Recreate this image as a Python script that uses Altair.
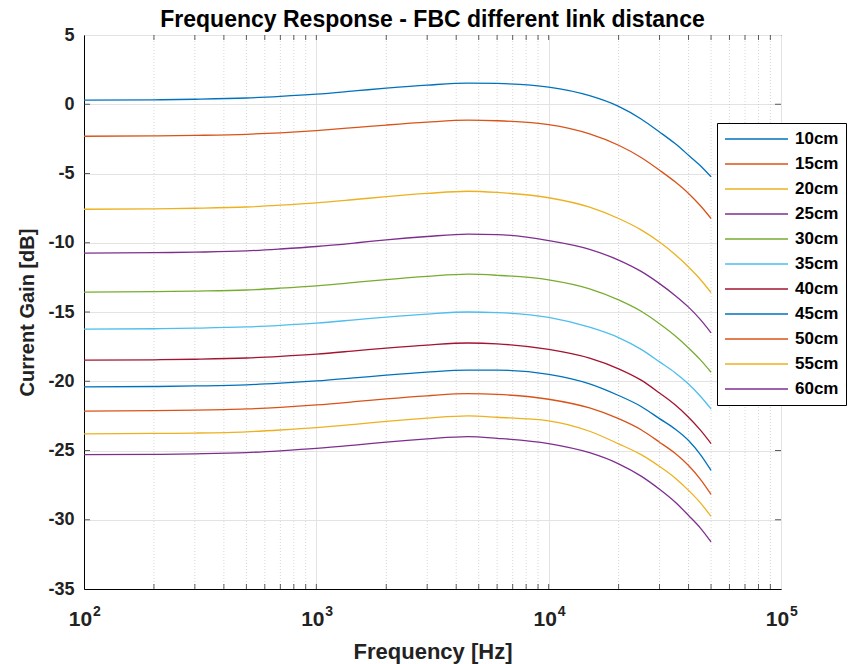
import altair as alt
import pandas as pd

freq = [100, 200, 300, 500, 700, 1000, 1500, 2000, 3000, 4500, 6000, 10000,
        15000, 20000, 25000, 30000, 35000, 40000, 45000, 50000]

labels = ["10cm", "15cm", "20cm", "25cm", "30cm", "35cm", "40cm", "45cm", "50cm", "55cm", "60cm"]

g10 = [0.30, 0.32, 0.36, 0.45, 0.57, 0.73, 0.98, 1.16, 1.38, 1.53, 1.50, 1.24, 0.62, -0.15, -1.06, -2.0, -2.84, -3.68, -4.44, -5.24]
g15 = [-2.31, -2.29, -2.25, -2.17, -2.06, -1.90, -1.67, -1.50, -1.29, -1.15, -1.19, -1.47, -2.14, -2.96, -3.84, -4.76, -5.6, -6.44, -7.33, -8.25]
g20 = [-7.58, -7.55, -7.51, -7.42, -7.29, -7.12, -6.86, -6.67, -6.44, -6.28, -6.37, -6.75, -7.43, -8.25, -9.07, -9.95, -10.85, -11.75, -12.65, -13.6]
g25 = [-10.75, -10.72, -10.68, -10.59, -10.45, -10.27, -10.0, -9.79, -9.55, -9.38, -9.41, -9.85, -10.48, -11.25, -12.07, -12.95, -13.8, -14.65, -15.55, -16.5]
g30 = [-13.56, -13.53, -13.49, -13.41, -13.28, -13.11, -12.85, -12.66, -12.43, -12.27, -12.35, -12.68, -13.33, -14.13, -14.95, -15.85, -16.72, -17.6, -18.46, -19.35]
g35 = [-16.23, -16.21, -16.17, -16.08, -15.96, -15.80, -15.55, -15.37, -15.15, -15.0, -15.04, -15.39, -16.1, -16.85, -17.7, -18.6, -19.38, -20.2, -21.08, -22.0]
g40 = [-18.47, -18.45, -18.41, -18.32, -18.2, -18.04, -17.79, -17.61, -17.39, -17.24, -17.3, -17.7, -18.33, -19.1, -19.92, -20.85, -21.7, -22.6, -23.53, -24.5]
g45 = [-20.40, -20.38, -20.34, -20.26, -20.14, -19.98, -19.74, -19.56, -19.34, -19.20, -19.2, -19.5, -20.19, -21.03, -21.82, -22.7, -23.45, -24.28, -25.3, -26.44]
g50 = [-22.15, -22.12, -22.09, -22.0, -21.88, -21.71, -21.46, -21.27, -21.05, -20.9, -20.95, -21.3, -21.93, -22.7, -23.5, -24.4, -25.2, -26.08, -27.08, -28.17]
g55 = [-23.80, -23.77, -23.74, -23.65, -23.52, -23.35, -23.09, -22.89, -22.66, -22.5, -22.6, -22.86, -23.61, -24.52, -25.3, -26.15, -26.98, -27.88, -28.78, -29.76]
g60 = [-25.30, -25.28, -25.24, -25.15, -25.02, -24.85, -24.59, -24.39, -24.16, -24.0, -24.12, -24.5, -25.16, -25.96, -26.85, -27.8, -28.72, -29.69, -30.6, -31.6]

series = [g10, g15, g20, g25, g30, g35, g40, g45, g50, g55, g60]
colors = ["#0072BD", "#D95319", "#EDB120", "#7E2F8E", "#77AC30", "#4DBEEE",
          "#A2142F", "#0072BD", "#D95319", "#EDB120", "#7E2F8E"]

minor_ticks = [200, 300, 400, 500, 600, 700, 800, 900,
               2000, 3000, 4000, 5000, 6000, 7000, 8000, 9000,
               20000, 30000, 40000, 50000, 60000, 70000, 80000, 90000]
major_ticks = [100, 1000, 10000, 100000]
exponents = ["2", "3", "4", "5"]
y_ticks = [-35, -30, -25, -20, -15, -10, -5, 0, 5]

rows = []
for lab, vals in zip(labels, series):
    for f, v in zip(freq, vals):
        rows.append({"Frequency": f, "Gain": v, "Distance": lab})
df = pd.DataFrame(rows)

FONT = "Liberation Sans"
W, H = 697, 554

xscale = alt.Scale(type="log", domain=[100, 100000], nice=False)
yscale = alt.Scale(domain=[-35, 5], nice=False)

minor = alt.Chart(pd.DataFrame({"f": minor_ticks})).mark_rule(
    color="#cccccc", strokeWidth=0.8, strokeDash=[1, 2]
).encode(x=alt.X("f:Q", scale=xscale))

all_x = pd.DataFrame({"f": minor_ticks + major_ticks[1:3]})
xt_bottom = alt.Chart(all_x).mark_rule(color="#333333", strokeWidth=0.8).encode(
    x=alt.X("f:Q", scale=xscale), y=alt.value(H - 5), y2=alt.value(H))
xt_top = alt.Chart(all_x).mark_rule(color="#333333", strokeWidth=0.8).encode(
    x=alt.X("f:Q", scale=xscale), y=alt.value(0), y2=alt.value(5))
ydf = pd.DataFrame({"v": y_ticks[1:-1]})
yt_left = alt.Chart(ydf).mark_rule(color="#333333", strokeWidth=0.8).encode(
    y=alt.Y("v:Q", scale=yscale), x=alt.value(0), x2=alt.value(6))
yt_right = alt.Chart(ydf).mark_rule(color="#333333", strokeWidth=0.8).encode(
    y=alt.Y("v:Q", scale=yscale), x=alt.value(W - 6), x2=alt.value(W))

exp_df = pd.DataFrame({"f": major_ticks, "e": exponents})
exps = alt.Chart(exp_df).mark_text(
    align="left", baseline="alphabetic", dx=9, font=FONT, fontSize=14,
    fontWeight="bold", color="#222222"
).encode(x=alt.X("f:Q", scale=xscale), y=alt.value(H + 27), text="e:N")

lines = alt.Chart(df).mark_line(strokeWidth=1.3, clip=True, interpolate="monotone").encode(
    x=alt.X("Frequency:Q", scale=xscale,
            axis=alt.Axis(values=major_ticks, title="Frequency [Hz]",
                          labelExpr="'10'", labelFlush=False, labelOffset=-4,
                          labelFontSize=21, labelBaseline="alphabetic",
                          grid=True, gridColor="#e3e3e3", ticks=False,
                          labelPadding=36, titlePadding=12, titleFontSize=22)),
    y=alt.Y("Gain:Q", scale=yscale,
            axis=alt.Axis(values=y_ticks, title="Current Gain [dB]",
                          labelExpr="datum.value + ''",
                          grid=True, gridColor="#e3e3e3", ticks=False,
                          labelPadding=10, titlePadding=10)),
    color=alt.Color("Distance:N", sort=labels,
                    scale=alt.Scale(domain=labels, range=colors),
                    legend=alt.Legend(title=None, orient="none", legendX=633, legendY=88,
                                      symbolType="stroke", symbolSize=3969,
                                      symbolStrokeWidth=1.3, clipHeight=18,
                                      rowPadding=7, padding=7,
                                      labelFontSize=17, labelFont=FONT,
                                      labelFontWeight="bold", labelColor="black",
                                      strokeColor="black", fillColor="white",
                                      labelOffset=6)),
    detail="Distance:N",
)

chart = alt.layer(minor, xt_bottom, xt_top, yt_left, yt_right, lines, exps).properties(
    width=W, height=H,
    background="white",
    title=alt.Title("Frequency Response - FBC different link distance",
                    fontSize=23, font=FONT, fontWeight="bold", color="black", offset=-6),
    autosize=alt.AutoSizeParams(type="none"),
    padding={"left": 84, "top": 35, "right": 67, "bottom": 75},
).configure_view(stroke="black", strokeWidth=1).configure_axis(
    labelFont=FONT, labelFontSize=18, labelFontWeight="bold", labelColor="#222222",
    titleFont=FONT, titleFontSize=20, titleFontWeight="bold", titleColor="#222222",
    domainColor="black", domainWidth=1,
)

chart.save("out.html", embed_options={"renderer": "svg", "actions": False})
